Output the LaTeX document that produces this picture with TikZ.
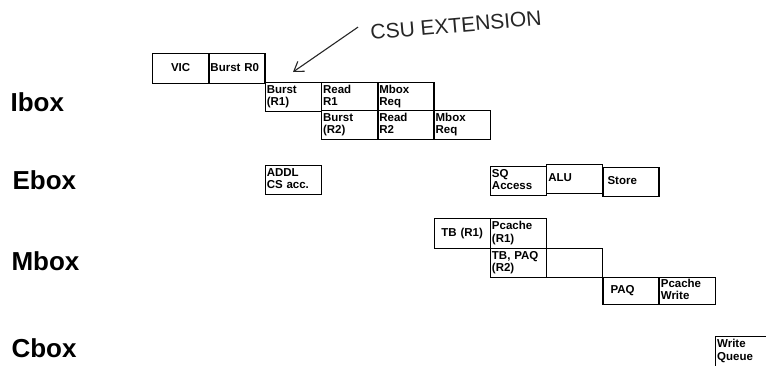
\documentclass[tikz,border=0pt]{standalone}
\usepackage{fontspec}
\setmainfont{Liberation Sans}
\usetikzlibrary{arrows.meta}
\begin{document}
\begin{tikzpicture}[x=1pt,y=-1pt,
  box/.style={draw, line width=1.3pt, fill=white, anchor=north west, inner xsep=1.5pt, inner ysep=0pt,
    align=left, text width=53pt, minimum height=#1,
    font=\bfseries\fontsize{11.5}{12.5}\selectfont,
    execute at begin node=\strut, execute at end node=\strut},
  box/.default=29pt,
  lane/.style={anchor=west, font=\bfseries\fontsize{26}{26}\selectfont},
  hand/.style={font=\fontsize{21}{21}\selectfont, text=black!85, rotate=5}]
\path[use as bounding box] (0,0) rectangle (766,365);
\clip (0,0) rectangle (766,365);
% lane labels
\node[lane] (ibox) at (7,102) {Ibox};
\node[lane] (ebox) at (9,180) {Ebox};
\node[lane] (mbox) at (8,261) {Mbox};
\node[lane] (cbox) at (8,348) {Cbox};
% Ibox
\node[box=30pt, align=center] (vic) at (152,53) {VIC};
\node[box=30pt] (b0) at (208.3,53) {Burst R0};
\node[box] (b1) at (264.6,82) {Burst\\(R1)};
\node[box] (r1) at (320.9,82) {Read\\R1};
\node[box] (m1) at (377.2,82) {Mbox\\Req};
\node[box] (b2) at (320.9,110) {Burst\\(R2)};
\node[box] (r2) at (377.2,110) {Read\\R2};
\node[box] (m2) at (433.5,110) {Mbox\\Req};
% Ebox
\node[box] (addl) at (264.6,165) {ADDL\\CS acc.};
\node[box] (sq) at (489.8,166) {SQ\\Access};
\node[box] (alu) at (546.1,164) {ALU};
\node[box] (store) at (602.4,167) {\hspace*{3pt}Store};
% Mbox
\node[box=30pt, align=center] (tb1) at (433.5,218) {TB (R1)};
\node[box=30pt] (pc1) at (489.8,218) {Pcache\\(R1)};
\node[box] (tb2) at (489.8,248) {TB, PAQ\\(R2)};
\node[box] (empty) at (546.1,248) {};
\node[box=27pt] (paq) at (602.4,277) {\hspace*{6pt}PAQ};
\node[box=27pt] (pcw) at (658.7,277) {Pcache\\Write};
% Cbox
\node[box=30pt] (wq) at (715,336) {Write\\Queue};
% handwritten annotation
\node[hand, anchor=south west] (note) at (368,44) {CSU EXTENSION};
\coordinate (tip) at (293,72);
\draw[line width=1.1pt, black!85, -{Straight Barb[length=9pt,width=12pt]}] (note.west) ++(-9,-6) -- (tip);
\end{tikzpicture}
\end{document}
